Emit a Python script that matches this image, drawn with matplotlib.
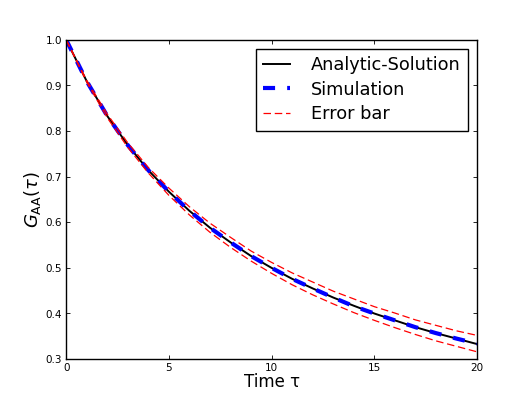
import matplotlib
matplotlib.use("Agg")
import matplotlib.pyplot as plt

# values
tau = [0, 1, 2, 3, 4, 5, 6, 7, 8, 9, 10, 11, 12, 13, 14, 15, 16, 17, 18, 19, 20]
analytic = [1.000, 0.909, 0.833, 0.769, 0.714, 0.667, 0.625, 0.588, 0.556, 0.526,
            0.500, 0.476, 0.455, 0.435, 0.417, 0.400, 0.385, 0.370, 0.357, 0.345, 0.333]
simulation = [1.000, 0.909, 0.833, 0.769, 0.714, 0.667, 0.625, 0.588, 0.556, 0.526,
              0.500, 0.476, 0.455, 0.435, 0.416, 0.400, 0.385, 0.370, 0.357, 0.345, 0.334]
err_upper = [1.000, 0.911, 0.837, 0.774, 0.720, 0.675, 0.634, 0.598, 0.567, 0.537,
             0.512, 0.489, 0.469, 0.449, 0.432, 0.415, 0.401, 0.386, 0.374, 0.362, 0.352]
err_lower = [1.000, 0.907, 0.829, 0.764, 0.708, 0.659, 0.616, 0.578, 0.545, 0.515,
             0.488, 0.463, 0.441, 0.421, 0.402, 0.385, 0.369, 0.354, 0.340, 0.328, 0.316]

fig = plt.figure(figsize=(5.3, 3.99), dpi=100)
ax = fig.add_axes([0.125, 0.1, 0.775, 0.8])

ax.plot(tau, analytic, color='black', linewidth=1.4, label='Analytic-Solution')
ax.plot(tau, simulation, color='blue', linewidth=3.0, dashes=(2.9, 2.9), label='Simulation')
ax.plot(tau, err_upper, color='red', linewidth=0.9, dashes=(6, 3), label='Error bar')
ax.plot(tau, err_lower, color='red', linewidth=0.9, dashes=(6, 3))

ax.set_xlim(0, 20)
ax.set_ylim(0.3, 1.0)
ax.set_xticks([0, 5, 10, 15, 20])
ax.set_yticks([0.3, 0.4, 0.5, 0.6, 0.7, 0.8, 0.9, 1.0])
ax.tick_params(direction='in', top=True, right=True, labelsize=7.5, length=3, width=0.6, pad=3)
for s in ax.spines.values():
    s.set_linewidth(1.0)

ax.set_xlabel(u'Time \u03c4', fontsize=12, labelpad=0)
ax.set_ylabel(r'$G_{\mathrm{AA}}(\tau)$', fontsize=13, labelpad=2)

ax.legend(loc='upper right', fontsize=12.8, fancybox=False, framealpha=1,
          edgecolor='black', handlelength=1.5, handletextpad=1.2, borderpad=0.4,
          labelspacing=0.38, borderaxespad=0.5)

fig.savefig('out.png', dpi=100)
